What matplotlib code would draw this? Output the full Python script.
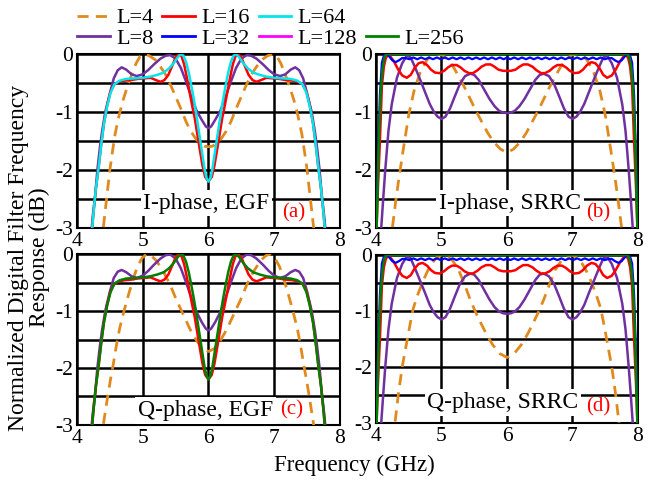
import matplotlib
matplotlib.use("Agg")
import matplotlib.pyplot as plt
from matplotlib.lines import Line2D

plt.rcParams["font.family"] = ["Liberation Serif", "DejaVu Serif"]
plt.rcParams["axes.unicode_minus"] = False

# ---- EGF panels (a: I-phase, c: Q-phase) ----
egf_l4_i_x = [4.37, 4.40, 4.45, 4.50, 4.54, 4.58, 4.64, 4.70, 4.77, 4.84, 4.90, 4.96, 5.02, 5.10, 5.19, 5.27, 5.35, 5.43, 5.51, 5.59, 5.66, 5.73, 5.80, 5.87, 5.94, 6.00,
              6.06, 6.13, 6.20, 6.27, 6.34, 6.41, 6.49, 6.57, 6.65, 6.73, 6.81, 6.90, 6.98, 7.04, 7.10, 7.16, 7.23, 7.30, 7.36, 7.42, 7.46, 7.50, 7.55, 7.60, 7.63]
egf_l4_i_y = [-3.3, -3.0, -2.5, -2.0, -1.68, -1.38, -1.06, -0.80, -0.55, -0.33, -0.16, -0.04, 0.0, -0.03, -0.10, -0.22, -0.36, -0.55, -0.76, -0.97, -1.17, -1.33, -1.45, -1.54, -1.59, -1.60,
              -1.59, -1.54, -1.45, -1.33, -1.17, -0.97, -0.76, -0.55, -0.36, -0.22, -0.10, -0.03, 0.0, -0.04, -0.16, -0.33, -0.55, -0.80, -1.06, -1.38, -1.68, -2.0, -2.5, -3.0, -3.3]

egf_l4_q_x = [4.38, 4.40, 4.46, 4.51, 4.55, 4.60, 4.65, 4.72, 4.79, 4.86, 4.92, 4.99, 5.06, 5.13, 5.21, 5.31, 5.41, 5.51, 5.62, 5.72, 5.82, 5.91, 6.00,
              6.09, 6.18, 6.28, 6.38, 6.49, 6.59, 6.69, 6.79, 6.87, 6.94, 7.01, 7.08, 7.14, 7.21, 7.28, 7.35, 7.40, 7.45, 7.49, 7.54, 7.60, 7.62]
egf_l4_q_y = [-3.3, -3.0, -2.55, -2.2, -1.95, -1.6, -1.30, -0.98, -0.69, -0.42, -0.22, -0.07, 0.0, -0.03, -0.12, -0.30, -0.52, -0.80, -1.07, -1.32, -1.52, -1.66, -1.71,
              -1.66, -1.52, -1.32, -1.07, -0.80, -0.52, -0.30, -0.12, -0.03, 0.0, -0.07, -0.22, -0.42, -0.69, -0.98, -1.30, -1.6, -1.95, -2.2, -2.55, -3.0, -3.3]

egf_l8_x = [4.20, 4.24, 4.28, 4.31, 4.35, 4.38, 4.43, 4.50, 4.56, 4.62, 4.68, 4.75, 4.83, 4.91, 5.00, 5.08, 5.17, 5.27, 5.35, 5.42, 5.50, 5.58, 5.66, 5.74, 5.82, 5.90, 5.96, 6.00,
            6.04, 6.10, 6.18, 6.26, 6.34, 6.42, 6.50, 6.58, 6.65, 6.73, 6.83, 6.92, 7.00, 7.09, 7.17, 7.25, 7.32, 7.38, 7.44, 7.50, 7.57, 7.62, 7.65, 7.69, 7.72, 7.76, 7.80]
egf_l8_i_y = [-3.3, -2.8, -2.4, -2.0, -1.6, -1.35, -1.0, -0.68, -0.42, -0.28, -0.23, -0.27, -0.35, -0.38, -0.35, -0.28, -0.18, -0.08, -0.03, -0.02, -0.08, -0.24, -0.48, -0.74, -0.98, -1.14, -1.25, -1.28,
              -1.25, -1.14, -0.98, -0.74, -0.48, -0.24, -0.08, -0.02, -0.03, -0.08, -0.18, -0.28, -0.35, -0.38, -0.35, -0.27, -0.23, -0.28, -0.42, -0.68, -1.0, -1.35, -1.6, -2.0, -2.4, -2.8, -3.3]
egf_l8_q_y = [-3.3, -2.8, -2.4, -2.0, -1.6, -1.35, -1.0, -0.66, -0.42, -0.31, -0.28, -0.32, -0.39, -0.42, -0.38, -0.30, -0.19, -0.08, -0.02, -0.01, -0.08, -0.25, -0.50, -0.77, -1.02, -1.20, -1.31, -1.34,
              -1.31, -1.20, -1.02, -0.77, -0.50, -0.25, -0.08, -0.01, -0.02, -0.08, -0.19, -0.30, -0.38, -0.42, -0.39, -0.32, -0.28, -0.31, -0.42, -0.66, -1.0, -1.35, -1.6, -2.0, -2.4, -2.8, -3.3]

egf_l16_x = [4.21, 4.25, 4.29, 4.33, 4.37, 4.41, 4.46, 4.51, 4.57, 4.64, 4.72, 4.82, 4.92, 5.02, 5.12, 5.20, 5.27, 5.33, 5.39, 5.45, 5.50, 5.55, 5.59, 5.63, 5.67, 5.71, 5.75, 5.79, 5.83, 5.87, 5.91, 5.95, 6.00,
             6.05, 6.09, 6.13, 6.17, 6.21, 6.25, 6.29, 6.33, 6.37, 6.41, 6.45, 6.50, 6.55, 6.61, 6.67, 6.73, 6.80, 6.88, 6.98, 7.08, 7.18, 7.28, 7.36, 7.43, 7.49, 7.54, 7.59, 7.63, 7.67, 7.71, 7.75, 7.79]
egf_l16_y = [-3.3, -2.75, -2.3, -1.95, -1.55, -1.2, -0.88, -0.65, -0.52, -0.48, -0.46, -0.45, -0.43, -0.42, -0.41, -0.45, -0.48, -0.45, -0.36, -0.20, -0.06, 0.0, -0.04, -0.18, -0.40, -0.64, -0.88, -1.10, -1.38, -1.66, -1.93, -2.12, -2.20,
             -2.12, -1.93, -1.66, -1.38, -1.10, -0.88, -0.64, -0.40, -0.18, -0.04, 0.0, -0.06, -0.20, -0.36, -0.45, -0.48, -0.45, -0.41, -0.42, -0.43, -0.45, -0.46, -0.48, -0.52, -0.65, -0.88, -1.2, -1.55, -1.95, -2.3, -2.75, -3.3]

# L=64 (I-phase) and L=256 (Q-phase) lie on top of each other
egf_hi_x = [4.21, 4.25, 4.29, 4.33, 4.37, 4.41, 4.46, 4.51, 4.57, 4.65, 4.75, 4.88, 5.00, 5.12, 5.22, 5.32, 5.40, 5.47, 5.53, 5.58, 5.62, 5.66, 5.70, 5.74, 5.78, 5.82, 5.86, 5.90, 5.94, 5.97, 6.00,
            6.03, 6.06, 6.10, 6.14, 6.18, 6.22, 6.26, 6.30, 6.34, 6.38, 6.42, 6.47, 6.53, 6.60, 6.68, 6.78, 6.88, 7.00, 7.12, 7.25, 7.35, 7.43, 7.49, 7.54, 7.59, 7.63, 7.67, 7.71, 7.75, 7.79]
egf_hi_y = [-3.3, -2.75, -2.3, -1.95, -1.55, -1.2, -0.90, -0.67, -0.52, -0.46, -0.43, -0.42, -0.41, -0.39, -0.36, -0.32, -0.25, -0.16, -0.06, 0.0, -0.03, -0.14, -0.32, -0.55, -0.80, -1.08, -1.38, -1.68, -1.98, -2.14, -2.20,
            -2.14, -1.98, -1.68, -1.38, -1.08, -0.80, -0.55, -0.32, -0.14, -0.03, 0.0, -0.06, -0.16, -0.25, -0.32, -0.36, -0.39, -0.41, -0.42, -0.43, -0.46, -0.52, -0.67, -0.90, -1.2, -1.55, -1.95, -2.3, -2.75, -3.3]

# ---- SRRC panels (b: I-phase, d: Q-phase) ----
srrc_l4_i_x = [4.23, 4.25, 4.30, 4.35, 4.42, 4.50, 4.58, 4.68, 4.78, 4.86, 4.94, 5.02, 5.10, 5.18, 5.26, 5.35, 5.44, 5.53, 5.62, 5.71, 5.80, 5.90, 6.00,
               6.10, 6.20, 6.29, 6.38, 6.47, 6.56, 6.65, 6.74, 6.82, 6.90, 6.98, 7.06, 7.14, 7.22, 7.32, 7.42, 7.50, 7.58, 7.65, 7.70, 7.75, 7.77]
srrc_l4_i_y = [-3.3, -3.0, -2.55, -2.14, -1.62, -1.05, -0.64, -0.30, -0.10, -0.02, 0.0, -0.02, -0.10, -0.22, -0.38, -0.57, -0.78, -0.99, -1.18, -1.37, -1.52, -1.64, -1.70,
               -1.64, -1.52, -1.37, -1.18, -0.99, -0.78, -0.57, -0.38, -0.22, -0.10, -0.02, 0.0, -0.02, -0.10, -0.30, -0.64, -1.05, -1.62, -2.14, -2.55, -3.0, -3.3]

srrc_l4_q_x = [4.27, 4.29, 4.34, 4.40, 4.45, 4.49, 4.53, 4.57, 4.64, 4.72, 4.79, 4.86, 4.93, 5.01, 5.09, 5.17, 5.26, 5.35, 5.44, 5.52, 5.59, 5.68, 5.78, 5.89, 6.00,
               6.11, 6.22, 6.32, 6.41, 6.48, 6.56, 6.65, 6.74, 6.83, 6.91, 6.99, 7.07, 7.14, 7.21, 7.28, 7.36, 7.43, 7.47, 7.51, 7.55, 7.60, 7.66, 7.71, 7.73]
srrc_l4_q_y = [-3.3, -3.0, -2.5, -2.0, -1.68, -1.43, -1.18, -0.95, -0.70, -0.46, -0.28, -0.14, -0.04, 0.0, -0.03, -0.10, -0.26, -0.52, -0.80, -1.02, -1.19, -1.40, -1.60, -1.76, -1.83,
               -1.76, -1.60, -1.40, -1.19, -1.02, -0.80, -0.52, -0.26, -0.10, -0.03, 0.0, -0.04, -0.14, -0.28, -0.46, -0.70, -0.95, -1.18, -1.43, -1.68, -2.0, -2.5, -3.0, -3.3]

srrc_l8_x = [4.06, 4.08, 4.11, 4.14, 4.19, 4.24, 4.32, 4.40, 4.47, 4.53, 4.60, 4.67, 4.75, 4.82, 4.88, 4.94, 5.00, 5.06, 5.13, 5.20, 5.28, 5.36, 5.44, 5.50, 5.57, 5.65, 5.73, 5.81, 5.88, 5.94, 6.00,
             6.06, 6.12, 6.19, 6.27, 6.35, 6.43, 6.50, 6.56, 6.64, 6.72, 6.80, 6.87, 6.94, 7.00, 7.06, 7.12, 7.18, 7.25, 7.33, 7.40, 7.47, 7.53, 7.60, 7.68, 7.76, 7.81, 7.86, 7.89, 7.92, 7.94]
srrc_l8_i_y = [-3.3, -3.0, -2.5, -2.02, -1.33, -0.87, -0.41, -0.16, -0.03, -0.06, -0.24, -0.43, -0.66, -0.86, -0.99, -1.08, -1.12, -1.08, -0.94, -0.74, -0.52, -0.38, -0.34, -0.36, -0.45, -0.61, -0.77, -0.90, -0.98, -1.01, -1.02,
               -1.01, -0.98, -0.90, -0.77, -0.61, -0.45, -0.36, -0.34, -0.38, -0.52, -0.74, -0.94, -1.08, -1.12, -1.08, -0.99, -0.86, -0.66, -0.43, -0.24, -0.06, -0.03, -0.16, -0.41, -0.87, -1.33, -2.02, -2.5, -3.0, -3.3]
srrc_l8_q_y = [-3.3, -3.0, -2.5, -2.02, -1.33, -0.87, -0.41, -0.16, -0.03, -0.06, -0.25, -0.45, -0.68, -0.89, -1.02, -1.11, -1.15, -1.11, -0.96, -0.75, -0.52, -0.38, -0.33, -0.35, -0.45, -0.62, -0.79, -0.93, -1.01, -1.04, -1.05,
               -1.04, -1.01, -0.93, -0.79, -0.62, -0.45, -0.35, -0.33, -0.38, -0.52, -0.75, -0.96, -1.11, -1.15, -1.11, -1.02, -0.89, -0.68, -0.45, -0.25, -0.06, -0.03, -0.16, -0.41, -0.87, -1.33, -2.02, -2.5, -3.0, -3.3]

srrc_l16_x = [4.00, 4.03, 4.06, 4.09, 4.12, 4.15, 4.18, 4.21, 4.27, 4.34, 4.40, 4.47, 4.53, 4.59, 4.65, 4.71, 4.78, 4.84, 4.90, 4.97, 5.04, 5.10, 5.16, 5.23, 5.29, 5.35, 5.42, 5.48, 5.55, 5.61, 5.68, 5.75, 5.81, 5.87, 5.94, 6.00,
              6.06, 6.13, 6.19, 6.25, 6.32, 6.39, 6.45, 6.52, 6.58, 6.65, 6.71, 6.77, 6.84, 6.90, 6.96, 7.03, 7.10, 7.16, 7.22, 7.29, 7.35, 7.41, 7.47, 7.53, 7.60, 7.66, 7.73, 7.79, 7.82, 7.85, 7.88, 7.91, 7.94, 7.97, 8.00]
srrc_l16_y = [-3.3, -2.3, -1.5, -0.55, -0.22, -0.07, -0.02, -0.03, -0.12, -0.27, -0.37, -0.41, -0.36, -0.24, -0.16, -0.14, -0.19, -0.27, -0.32, -0.33, -0.29, -0.23, -0.19, -0.19, -0.23, -0.29, -0.33, -0.33, -0.28, -0.22, -0.18, -0.18, -0.22, -0.27, -0.29, -0.29,
              -0.29, -0.27, -0.22, -0.18, -0.18, -0.22, -0.28, -0.33, -0.33, -0.29, -0.23, -0.19, -0.19, -0.23, -0.29, -0.33, -0.32, -0.27, -0.19, -0.14, -0.16, -0.24, -0.36, -0.41, -0.37, -0.27, -0.12, -0.03, -0.02, -0.07, -0.22, -0.55, -1.5, -2.3, -3.3]

srrc_l32_x = [4.00, 4.03, 4.06, 4.09, 4.12, 4.16, 4.20, 4.25, 4.30, 4.35, 4.40, 4.45,
              4.51, 4.57, 4.63, 4.69, 4.75, 4.81, 4.87, 4.93, 4.99, 5.05, 5.11, 5.17, 5.23, 5.29, 5.35, 5.41, 5.47, 5.53, 5.59, 5.65, 5.71, 5.77, 5.83, 5.89, 5.95, 6.00,
              6.05, 6.11, 6.17, 6.23, 6.29, 6.35, 6.41, 6.47, 6.53, 6.59, 6.65, 6.71, 6.77, 6.83, 6.89, 6.95, 7.01, 7.07, 7.13, 7.19, 7.25, 7.31, 7.37, 7.43, 7.49,
              7.55, 7.60, 7.65, 7.70, 7.75, 7.80, 7.84, 7.88, 7.91, 7.94, 7.97, 8.00]
srrc_l32_y = [-3.3, -1.8, -0.7, -0.15, -0.03, 0.0, -0.04, -0.11, -0.14, -0.11, -0.07, -0.07,
              -0.09, -0.06, -0.09, -0.06, -0.09, -0.06, -0.09, -0.06, -0.09, -0.06, -0.09, -0.06, -0.09, -0.06, -0.09, -0.06, -0.09, -0.06, -0.09, -0.06, -0.09, -0.06, -0.09, -0.06, -0.09, -0.06,
              -0.09, -0.06, -0.09, -0.06, -0.09, -0.06, -0.09, -0.06, -0.09, -0.06, -0.09, -0.06, -0.09, -0.06, -0.09, -0.06, -0.09, -0.06, -0.09, -0.06, -0.09, -0.06, -0.09, -0.06, -0.09,
              -0.07, -0.07, -0.11, -0.14, -0.11, -0.04, 0.0, -0.03, -0.15, -0.7, -1.8, -3.3]

srrc_l256_x = [3.99, 4.01, 4.04, 4.07, 4.10, 4.13, 4.16, 7.84, 7.87, 7.90, 7.93, 7.96, 7.99, 8.01]
srrc_l256_y = [-3.3, -3.0, -1.6, -0.7, -0.25, -0.06, 0.0, 0.0, -0.06, -0.25, -0.7, -1.6, -3.0, -3.3]

LEGEND_LABELS = ["L=4", "L=8", "L=16", "L=32", "L=64", "L=128", "L=256"]
COLORS = {"L=4": "#E08A1E", "L=8": "#7030A0", "L=16": "#FF0000", "L=32": "#0000FF",
          "L=64": "#00E5EE", "L=128": "#FF00FF", "L=256": "#008000"}

X_TICKS = [4, 5, 6, 7, 8]
Y_TICKS = [0, -1, -2, -3]
DASH = (0, (4, 2.6))


def style_axes(ax):
    ax.set_xlim(4, 8)
    ax.set_ylim(-3, 0)
    ax.set_xticks(X_TICKS)
    ax.set_yticks(Y_TICKS)
    ax.set_yticklabels([str(v) for v in Y_TICKS])
    ax.set_yticks([-0.5, -1.5, -2.5], minor=True)
    ax.grid(True, which="both", color="black", linewidth=1.8, zorder=0)
    ax.set_axisbelow(True)
    ax.tick_params(which="both", length=0, labelsize=15.5, pad=3)
    for s in ax.spines.values():
        s.set_linewidth(1.5)
        s.set_color("black")


def curve(ax, x, y, key):
    if key == "L=4":
        ax.plot(x, y, color=COLORS[key], lw=2.0, linestyle=DASH, zorder=3)
    elif key == "L=32":
        ax.plot(x, y, color=COLORS[key], lw=1.6, zorder=3)
    else:
        ax.plot(x, y, color=COLORS[key], lw=1.8, zorder=3)


def tag(ax, xy_text, text, xy_lab, lab):
    ax.text(*xy_text, text, ha="center", va="center", fontsize=17, zorder=5,
            bbox=dict(facecolor="white", edgecolor="none", pad=2.0))
    ax.text(*xy_lab, lab, ha="center", va="center", fontsize=15, color="red", zorder=6)


def main():
    fig = plt.figure(figsize=(6.67, 4.83), dpi=100)
    ax_a = fig.add_axes([0.1154, 0.528, 0.3943, 0.3602])
    ax_b = fig.add_axes([0.5637, 0.528, 0.3928, 0.3602])
    ax_c = fig.add_axes([0.1154, 0.1201, 0.3943, 0.354])
    ax_d = fig.add_axes([0.5637, 0.1242, 0.3928, 0.3478])

    for ax in (ax_a, ax_b, ax_c, ax_d):
        style_axes(ax)

    # (a) I-phase, EGF
    curve(ax_a, egf_l4_i_x, egf_l4_i_y, "L=4")
    curve(ax_a, egf_l8_x, egf_l8_i_y, "L=8")
    curve(ax_a, egf_l16_x, egf_l16_y, "L=16")
    curve(ax_a, egf_hi_x, egf_hi_y, "L=64")
    tag(ax_a, (5.97, -2.57), "I-phase, EGF", (7.30, -2.74), "(a)")

    # (b) I-phase, SRRC
    curve(ax_b, srrc_l4_i_x, srrc_l4_i_y, "L=4")
    curve(ax_b, srrc_l8_x, srrc_l8_i_y, "L=8")
    curve(ax_b, srrc_l16_x, srrc_l16_y, "L=16")
    curve(ax_b, srrc_l32_x, srrc_l32_y, "L=32")
    curve(ax_b, srrc_l256_x, srrc_l256_y, "L=256")
    tag(ax_b, (6.05, -2.57), "I-phase, SRRC", (7.40, -2.74), "(b)")

    # (c) Q-phase, EGF
    curve(ax_c, egf_l4_q_x, egf_l4_q_y, "L=4")
    curve(ax_c, egf_l8_x, egf_l8_q_y, "L=8")
    curve(ax_c, egf_l16_x, egf_l16_y, "L=16")
    curve(ax_c, egf_hi_x, egf_hi_y, "L=256")
    tag(ax_c, (5.95, -2.74), "Q-phase, EGF", (7.26, -2.74), "(c)")

    # (d) Q-phase, SRRC
    curve(ax_d, srrc_l4_q_x, srrc_l4_q_y, "L=4")
    curve(ax_d, srrc_l8_x, srrc_l8_q_y, "L=8")
    curve(ax_d, srrc_l16_x, srrc_l16_y, "L=16")
    curve(ax_d, srrc_l32_x, srrc_l32_y, "L=32")
    curve(ax_d, srrc_l256_x, srrc_l256_y, "L=256")
    tag(ax_d, (5.94, -2.63), "Q-phase, SRRC", (7.40, -2.72), "(d)")

    # legend is filled column-wise; a blank slot puts L=256 on the second row
    handles, labels = [], []
    for lab in LEGEND_LABELS:
        if lab == "L=256":
            handles.append(Line2D([], [], color="none"))
            labels.append("")
        ls = DASH if lab == "L=4" else "-"
        handles.append(Line2D([], [], color=COLORS[lab], lw=2.0, linestyle=ls))
        labels.append(lab)
    fig.legend(handles, labels, ncol=4, loc="upper left", bbox_to_anchor=(0.116, 0.984),
               frameon=False, fontsize=16, handlelength=1.45, handletextpad=0.3,
               columnspacing=0.4, labelspacing=0.0, borderpad=0.0, borderaxespad=0.0)

    fig.text(0.043, 0.467, "Normalized Digital Filter Frequency\nResponse (dB)",
             rotation=90, ha="center", va="center", fontsize=17, linespacing=1.0,
             multialignment="center")
    fig.text(0.532, 0.037, "Frequency (GHz)", ha="center", va="center", fontsize=16.5)

    fig.savefig("out.png", dpi=100)
    plt.close(fig)


if __name__ == "__main__":
    main()
